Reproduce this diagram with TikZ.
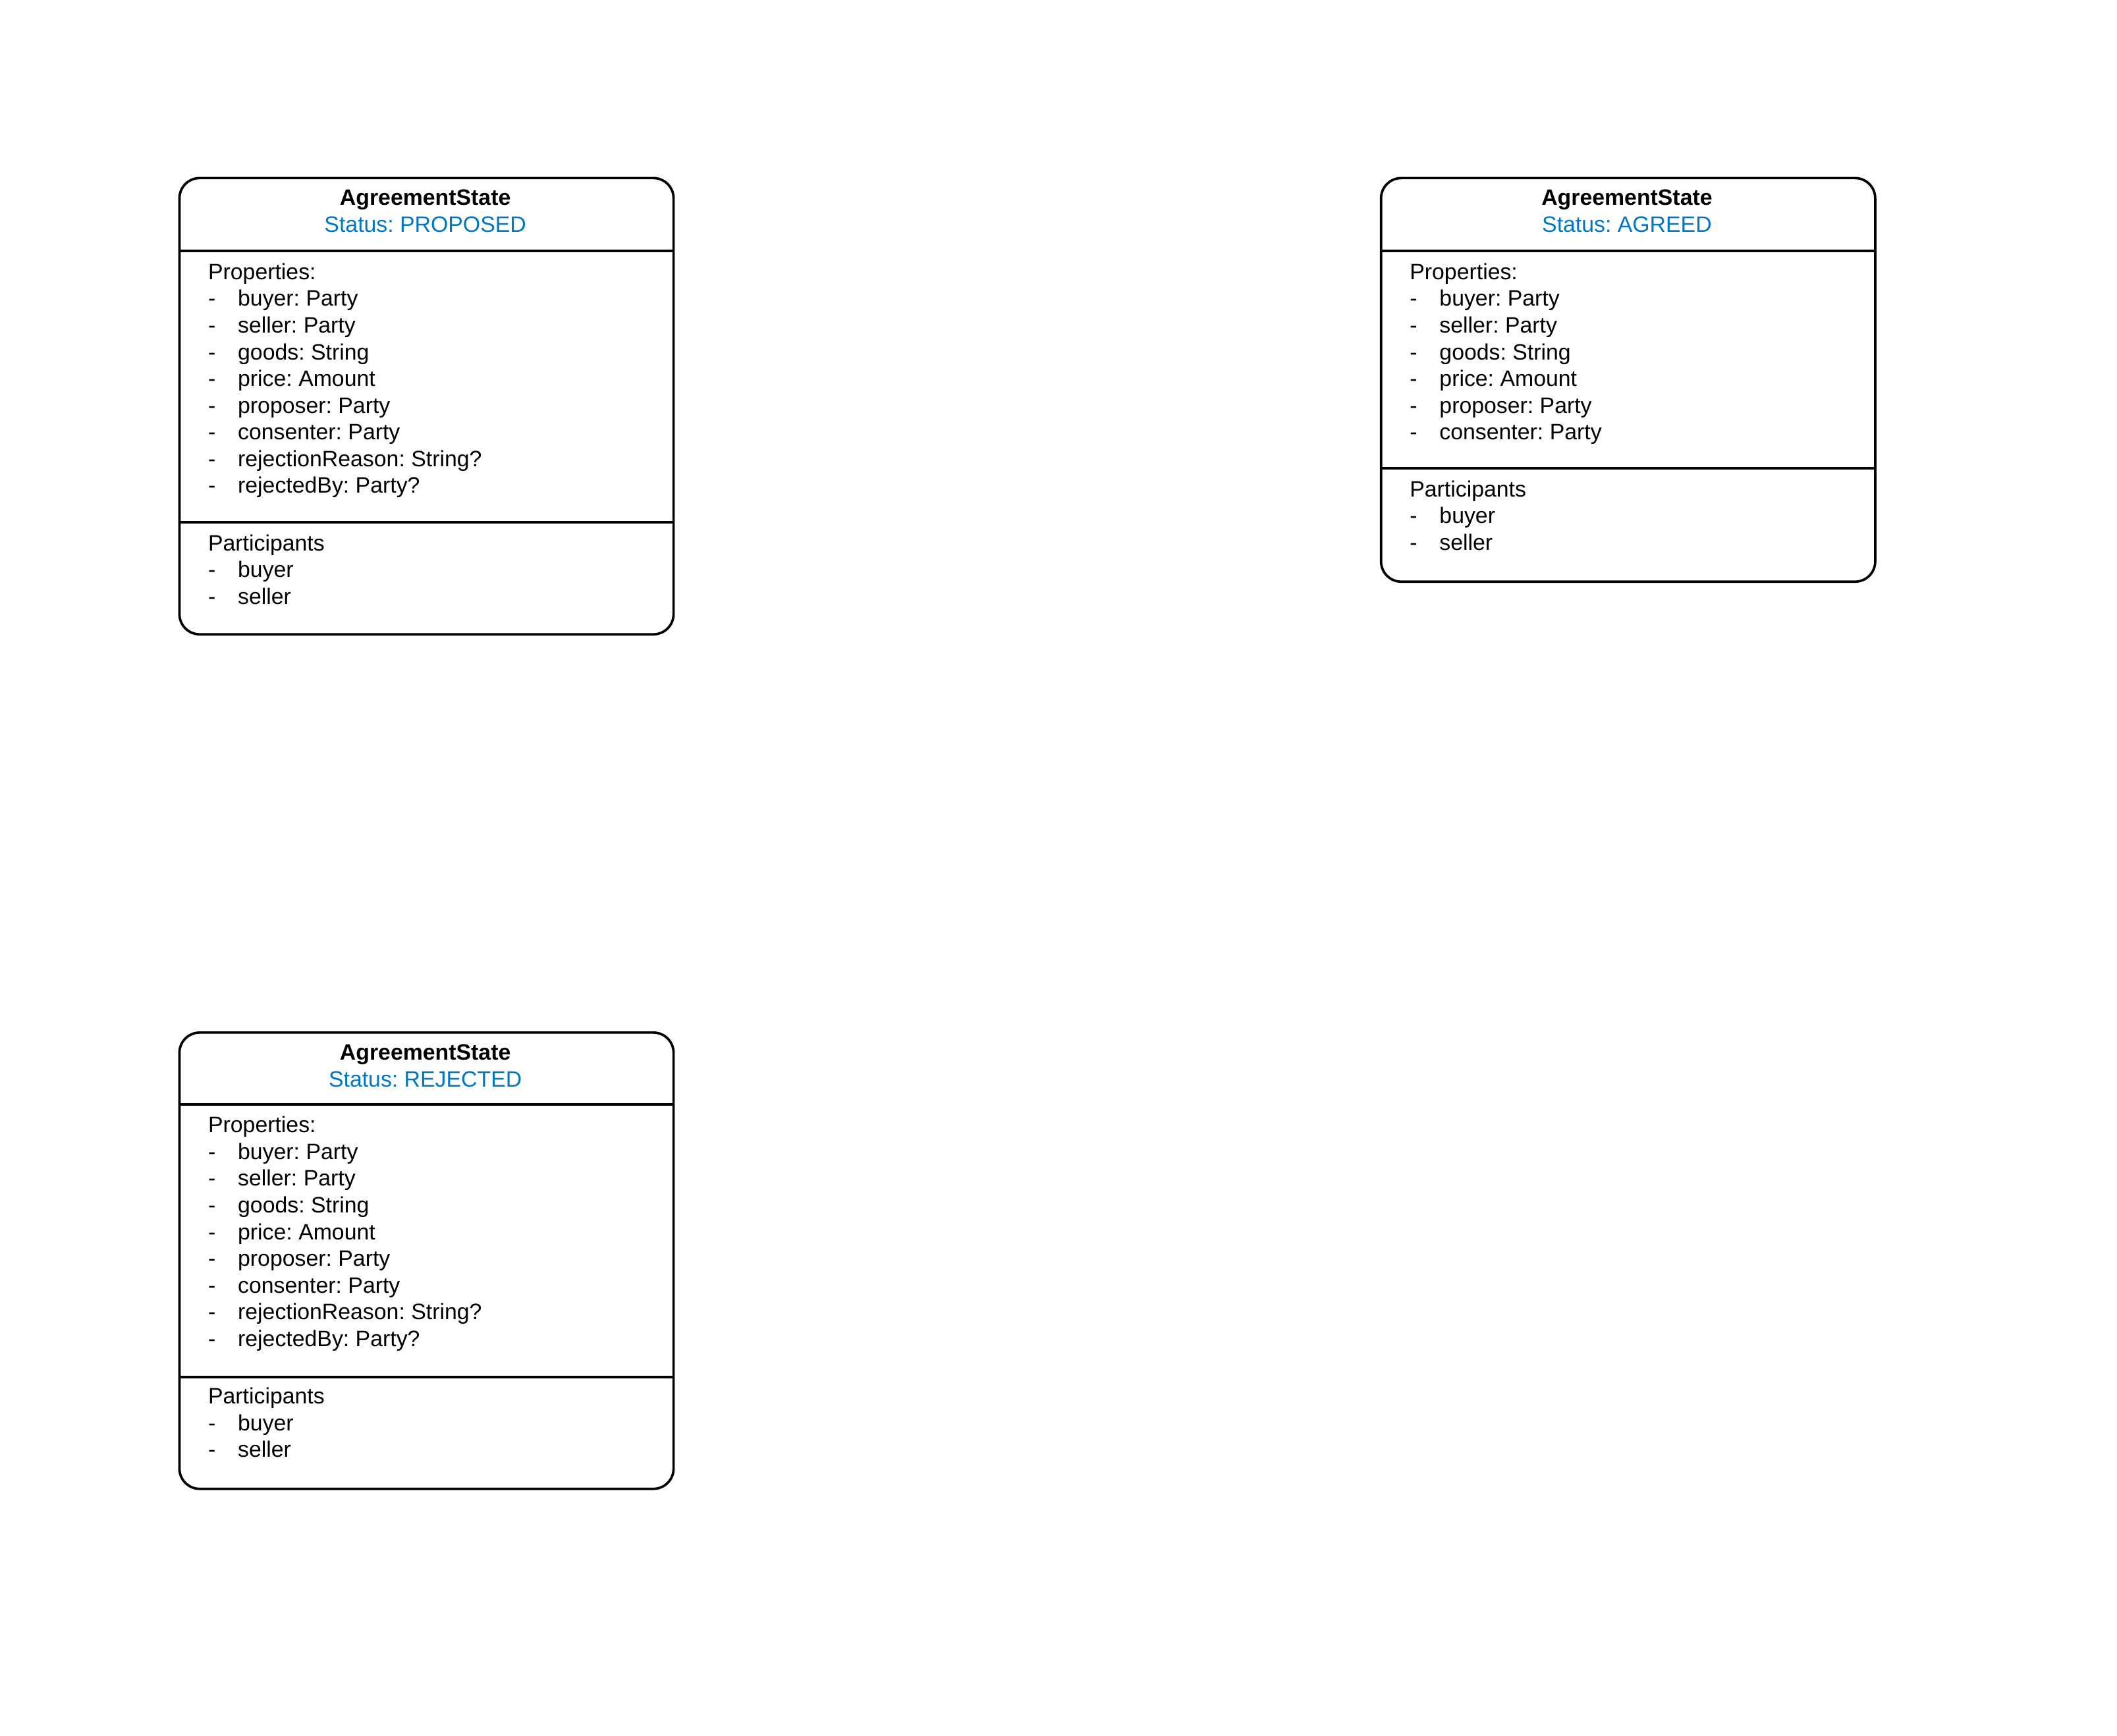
\documentclass[tikz,border=0pt]{standalone}
\usepackage{fontspec}
\setmainfont{Liberation Sans}
\frenchspacing
\definecolor{statusblue}{RGB}{0,119,192}
\newcommand{\attr}[1]{\makebox[22pt][l]{-}#1}
\begin{document}
\begin{tikzpicture}[x=1pt,y=-1pt,
  statebox/.style={draw=black,line width=1.8pt,rounded corners=15pt,minimum width=366pt,inner sep=0pt,anchor=north west},
  hdr/.style={font=\fontsize{16.5}{19.8}\selectfont,align=center,anchor=base,inner sep=0pt},
  lst/.style={font=\fontsize{16.5}{19.8}\selectfont,align=left,anchor=base west,inner sep=0pt},
  sep/.style={line width=1.8pt}]
\useasboundingbox (0,0) rectangle (1568,1286);
% proposed
\node[statebox,minimum height=338pt] (P) at (132,131) {};
\node[hdr] (Ph) at (315,172) {\textbf{AgreementState}\\\textcolor{statusblue}{Status: PROPOSED}};
\node[lst] (Pp) at (154,365.4) {Properties:\\\attr{buyer: Party}\\\attr{seller: Party}\\\attr{goods: String}\\\attr{price: Amount}\\\attr{proposer: Party}\\\attr{consenter: Party}\\\attr{rejectionReason: String?}\\\attr{rejectedBy: Party?}};
\node[lst] (Pa) at (154,447.6) {Participants\\\attr{buyer}\\\attr{seller}};
\draw[sep] (P.west |- 0,186) -- (P.east |- 0,186);
\draw[sep] (P.west |- 0,387) -- (P.east |- 0,387);
% agreed
\node[statebox,minimum height=299pt] (A) at (1022,131) {};
\node[hdr] (Ah) at (1205,172) {\textbf{AgreementState}\\\textcolor{statusblue}{Status: AGREED}};
\node[lst] (Ap) at (1044,325.8) {Properties:\\\attr{buyer: Party}\\\attr{seller: Party}\\\attr{goods: String}\\\attr{price: Amount}\\\attr{proposer: Party}\\\attr{consenter: Party}};
\node[lst] (Aa) at (1044,407.6) {Participants\\\attr{buyer}\\\attr{seller}};
\draw[sep] (A.west |- 0,186) -- (A.east |- 0,186);
\draw[sep] (A.west |- 0,347) -- (A.east |- 0,347);
% rejected
\node[statebox,minimum height=338pt] (R) at (132,764) {};
\node[hdr] (Rh) at (315,805) {\textbf{AgreementState}\\\textcolor{statusblue}{Status: REJECTED}};
\node[lst] (Rp) at (154,997.4) {Properties:\\\attr{buyer: Party}\\\attr{seller: Party}\\\attr{goods: String}\\\attr{price: Amount}\\\attr{proposer: Party}\\\attr{consenter: Party}\\\attr{rejectionReason: String?}\\\attr{rejectedBy: Party?}};
\node[lst] (Ra) at (154,1079.6) {Participants\\\attr{buyer}\\\attr{seller}};
\draw[sep] (R.west |- 0,818) -- (R.east |- 0,818);
\draw[sep] (R.west |- 0,1020) -- (R.east |- 0,1020);
\end{tikzpicture}
\end{document}
